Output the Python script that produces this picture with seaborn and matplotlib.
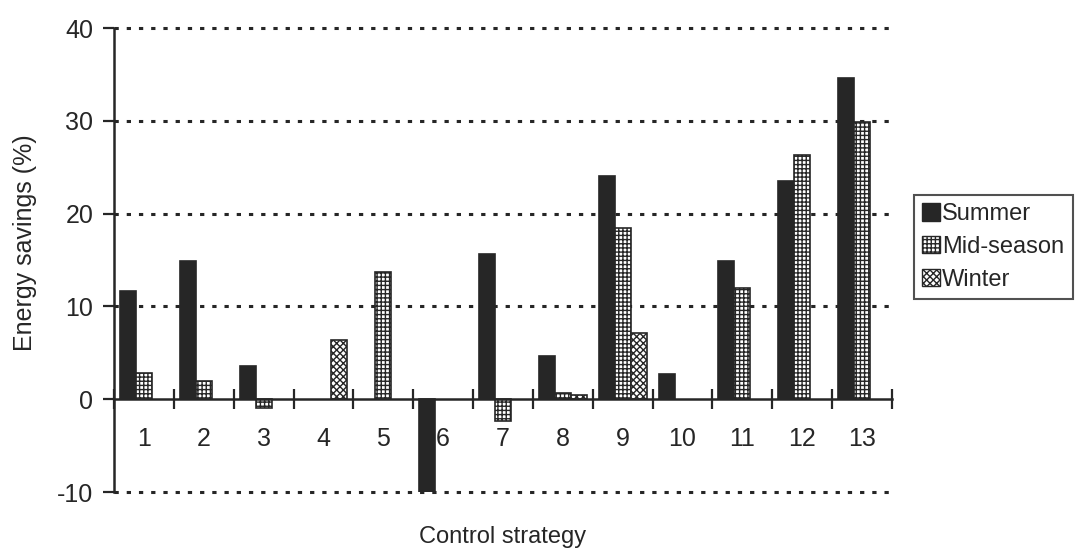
import numpy as np
import pandas as pd
import matplotlib
matplotlib.use("Agg")
import matplotlib.pyplot as plt
import seaborn as sns
from matplotlib.patches import Patch

# data (NaN = no bar)
strategies = [str(i) for i in range(1, 14)]
summer = [11.7, 14.9, 3.6, np.nan, np.nan, -10.0, 15.6, 4.7, 24.0, 2.7, 14.9, 23.5, 34.6]
mid_season = [2.8, 2.0, -0.9, np.nan, 13.7, np.nan, -2.4, 0.7, 18.5, np.nan, 12.0, 26.3, 29.9]
winter = [np.nan, np.nan, np.nan, 6.4, np.nan, np.nan, np.nan, 0.4, 7.1, np.nan, np.nan, np.nan, np.nan]
seasons = ["Summer", "Mid-season", "Winter"]
y_ticks = [-10, 0, 10, 20, 30, 40]

df = pd.DataFrame({
    "strategy": strategies * 3,
    "season": np.repeat(seasons, len(strategies)),
    "saving": summer + mid_season + winter,
})

sns.set_style("white")
plt.rcParams["font.family"] = ["Liberation Sans", "DejaVu Sans"]
plt.rcParams["hatch.linewidth"] = 1.0
ink = "#262626"

fig = plt.figure(figsize=(10.77, 5.49), dpi=100)
ax = fig.add_axes([114 / 1077, 1 - 492 / 549, (892 - 114) / 1077, (492 - 28) / 549])

sns.barplot(data=df, x="strategy", y="saving", hue="season", order=strategies,
            hue_order=seasons, width=0.8, ax=ax, legend=False, errorbar=None)

styles = [(ink, ""), ("white", "++++"), ("white", "xxxxx")]
for cont, (fc, hatch) in zip(ax.containers, styles):
    for bar in cont:
        bar.set_facecolor(fc)
        bar.set_edgecolor(ink)
        bar.set_linewidth(1.2)
        bar.set_hatch(hatch)

ax.set_xlim(-0.5, 12.5)
ax.set_ylim(-10, 40)
ax.set_yticks(y_ticks)
ax.set_yticklabels([str(v) for v in y_ticks])

# ticks between groups, labels at group centres
ax.set_xticks(np.arange(-0.5, 13, 1.0))
ax.set_xticklabels([])
ax.set_xticks(np.arange(13), minor=True)
ax.set_xticklabels(strategies, minor=True)
ax.tick_params(axis="x", which="major", bottom=True, direction="inout", length=14, width=1.6, color=ink)
ax.tick_params(axis="x", which="minor", bottom=True, length=0, pad=20, labelsize=18, labelcolor=ink)
ax.tick_params(axis="y", left=True, direction="out", length=8, width=1.6, color=ink, pad=7,
               labelsize=18, labelcolor=ink)

for s in ["top", "right"]:
    ax.spines[s].set_visible(False)
ax.spines["bottom"].set_position(("data", 0))
for s in ["bottom", "left"]:
    ax.spines[s].set_linewidth(1.8)
    ax.spines[s].set_color(ink)

for v in [-10, 10, 20, 30, 40]:
    ax.axhline(v, color=ink, lw=2.2, ls=(0, (1.4, 2.6)), zorder=0, clip_on=False)

ax.set_xlabel("")
ax.set_ylabel("Energy savings (%)", fontsize=18, color=ink)
ax.yaxis.set_label_coords((37 - 114) / 778, (492 - 243) / 464)
fig.text(503 / 1077, 1 - 537 / 549, "Control strategy", fontsize=17, ha="center", va="center", color=ink)

handles = [Patch(facecolor=fc, edgecolor=ink, hatch=h, label=lab)
           for (fc, h), lab in zip(styles, seasons)]
leg = fig.legend(handles=handles, loc="upper left", bbox_to_anchor=(914 / 1077, 1 - 195 / 549),
                 fontsize=17, frameon=True, fancybox=False, edgecolor=ink,
                 handlelength=0.75, handleheight=0.75, handletextpad=0.1,
                 borderpad=0.35, labelspacing=0.45, borderaxespad=0)
leg.get_frame().set_linewidth(1.5)
for t in leg.get_texts():
    t.set_color(ink)

fig.savefig("out.png", dpi=100)
